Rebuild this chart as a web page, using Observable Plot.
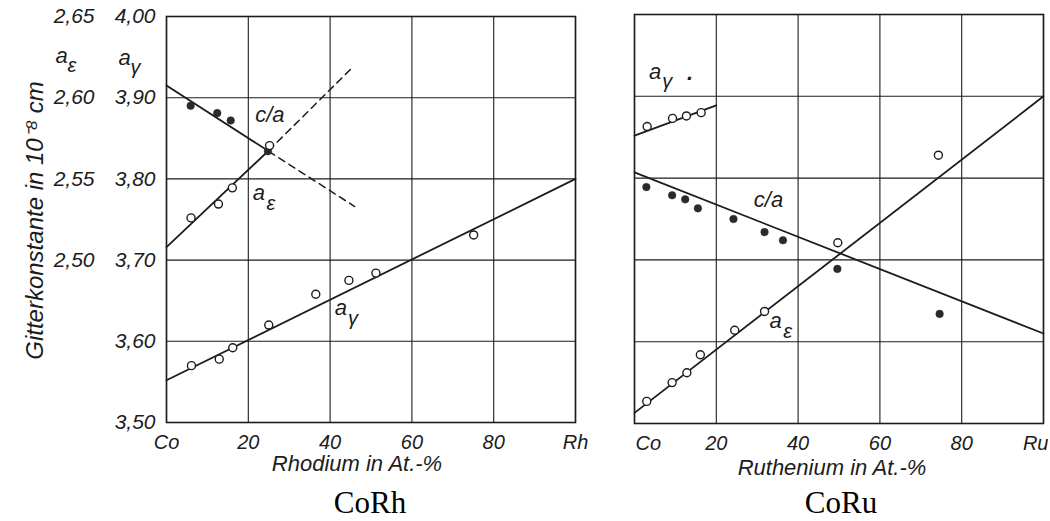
<!DOCTYPE html>
<html><head><meta charset="utf-8">
<script src="https://cdn.jsdelivr.net/npm/d3@7"></script>
<script src="https://cdn.jsdelivr.net/npm/@observablehq/plot@0.6"></script>
<style>
body{margin:0;background:#fff;}
#wrap{position:relative;width:1050px;height:521px;overflow:hidden;background:#fff;}
#wrap svg{position:absolute;top:0;background:transparent;}
.cap{position:absolute;top:485px;height:36px;font-family:"Liberation Serif","Times New Roman",serif;font-size:31px;color:#000;text-align:center;line-height:36px;}
</style></head><body><div id="wrap"></div>
<script>
// ---------- data ----------
// common axes
const xTicks = [0, 20, 40, 60, 80, 100];
const rhTickLabels = ["Co", "20", "40", "60", "80", "Rh"];
const ruTickLabels = ["Co", "20", "40", "60", "80", "Ru"];
const yTicks = [3.5, 3.6, 3.7, 3.8, 3.9, 4.0];
const agTickLabels = ["3,50", "3,60", "3,70", "3,80", "3,90", "4,00"];
const aeTickValues = [3.7, 3.8, 3.9, 4.0];
const aeTickLabels = ["2,50", "2,55", "2,60", "2,65"];

// CoRh : a_gamma (open)
const rhGammaX = [6.1, 12.9, 16.2, 25.0, 36.5, 44.6, 51.2, 75.1];
const rhGammaY = [3.570, 3.578, 3.592, 3.620, 3.658, 3.675, 3.684, 3.731];
const rhGammaLineX = [0, 100];
const rhGammaLineY = [3.552, 3.800];
// CoRh : a_epsilon (open)
const rhEpsX = [6.0, 12.7, 16.1, 25.2];
const rhEpsY = [3.752, 3.769, 3.789, 3.841];
const rhEpsLineX = [0, 25];
const rhEpsLineY = [3.716, 3.835];
const rhEpsDashX = [25, 45];
const rhEpsDashY = [3.835, 3.935];
// CoRh : c/a (filled)
const rhCaX = [5.9, 12.4, 15.7, 24.8];
const rhCaY = [3.890, 3.881, 3.872, 3.834];
const rhCaLineX = [0, 25];
const rhCaLineY = [3.915, 3.834];
const rhCaDashX = [25, 46];
const rhCaDashY = [3.834, 3.766];

// CoRu : a_gamma (open)
const ruGammaX = [3.1, 9.3, 12.7, 16.3];
const ruGammaY = [3.863, 3.873, 3.876, 3.880];
const ruGammaLineX = [0, 20];
const ruGammaLineY = [3.852, 3.889];
// CoRu : c/a (filled)
const ruCaX = [2.9, 9.2, 12.4, 15.5, 24.2, 31.8, 36.3, 49.6, 74.6];
const ruCaY = [3.789, 3.779, 3.774, 3.763, 3.750, 3.734, 3.724, 3.689, 3.634];
const ruCaLineX = [0, 100];
const ruCaLineY = [3.807, 3.610];
// CoRu : a_epsilon (open)
const ruEpsX = [3.0, 9.2, 12.8, 16.1, 24.5, 31.8, 49.7, 74.3];
const ruEpsY = [3.527, 3.550, 3.562, 3.584, 3.614, 3.637, 3.721, 3.828];
const ruEpsLineX = [0, 100];
const ruEpsLineY = [3.513, 3.900];

// ---------- helpers ----------
const INK = "#1c1c1c";
const FONT = "'Liberation Sans', Arial, sans-serif";
const pts = (xs, ys) => xs.map((x, i) => ({x, y: ys[i]}));
const solid = (xs, ys) => Plot.line(pts(xs, ys), {x: "x", y: "y", stroke: INK, strokeWidth: 1.8});
const dashed = (xs, ys) => Plot.line(pts(xs, ys), {x: "x", y: "y", stroke: INK, strokeWidth: 1.5, strokeDasharray: "7,5"});
const openDots = (xs, ys) => Plot.dot(pts(xs, ys), {x: "x", y: "y", r: 4, fill: "white", stroke: INK, strokeWidth: 1.4});
const fullDots = (xs, ys) => Plot.dot(pts(xs, ys), {x: "x", y: "y", r: 3.8, fill: "#2a2a2a", stroke: "#2a2a2a", strokeWidth: 0.5});
// "a" with a subscript letter, anchored on a data point plus an offset
function subLabel(sub, x, y, dx, dy) {
  return [
    Plot.text(["a"], {x: [x], y: [y], dx, dy, text: d => d, fontSize: 22, fill: INK}),
    Plot.text([sub], {x: [x], y: [y], dx: dx + 12, dy: dy + 10, text: d => d, fontSize: 20, fill: INK})
  ];
}
function subLabelFrame(sub, dx, dy) {
  return [
    Plot.text(["a"], {frameAnchor: "top-left", dx, dy, text: d => d, fontSize: 22, fill: INK}),
    Plot.text([sub], {frameAnchor: "top-left", dx: dx + 12, dy: dy + 10, text: d => d, fontSize: 20, fill: INK})
  ];
}
const mapLabels = (ticks, labels) => d => labels[ticks.findIndex(t => Math.abs(t - d) < 1e-9)];

const baseStyle = {fontFamily: FONT, fontStyle: "italic", fontSize: "21px", color: INK, background: "transparent", overflow: "visible"};

// ---------- CoRh ----------
const left = Plot.plot({
  width: 600, height: 480,
  marginLeft: 166, marginRight: 25, marginTop: 16, marginBottom: 58,
  style: baseStyle,
  x: {domain: [0, 100]},
  y: {domain: [3.5, 4.0]},
  marks: [
    Plot.gridX(xTicks, {stroke: INK, strokeOpacity: 1, strokeWidth: 1.1}),
    Plot.gridY(yTicks, {stroke: INK, strokeOpacity: 1, strokeWidth: 1.1}),
    Plot.frame({stroke: INK, strokeWidth: 1.6}),
    Plot.axisX(xTicks, {tickSize: 0, tickPadding: 12, tickFormat: mapLabels(xTicks, rhTickLabels), label: null, fontSize: 20, letterSpacing: "1.3px"}),
    Plot.axisY(yTicks, {tickSize: 0, tickPadding: 11, tickFormat: mapLabels(yTicks, agTickLabels), label: null, fontSize: 21}),
    Plot.axisY(aeTickValues, {tickSize: 0, tickPadding: 72, tickFormat: mapLabels(aeTickValues, aeTickLabels), label: null, fontSize: 21}),
    ...subLabelFrame("ε", -111, 31),
    ...subLabelFrame("γ", -48, 33),
    Plot.text(["Gitterkonstante in 10⁻⁸ cm"], {frameAnchor: "left", textAnchor: "middle", dx: -131, dy: 1, rotate: -90, text: d => d, fontSize: 24, letterSpacing: "2.6px", fill: INK}),
    Plot.text(["Rhodium in At.-%"], {frameAnchor: "bottom", dx: -14, dy: 48, text: d => d, fontSize: 22, letterSpacing: "3.2px", fill: INK}),
    solid(rhGammaLineX, rhGammaLineY),
    solid(rhEpsLineX, rhEpsLineY),
    dashed(rhEpsDashX, rhEpsDashY),
    solid(rhCaLineX, rhCaLineY),
    dashed(rhCaDashX, rhCaDashY),
    openDots(rhGammaX, rhGammaY),
    fullDots(rhCaX, rhCaY),
    openDots(rhEpsX, rhEpsY),
    Plot.text(["c/a"], {x: [rhCaX[3]], y: [rhCaY[3]], dx: 2, dy: -36, text: d => d, fontSize: 22, fill: INK}),
    ...subLabel("ε", rhCaX[3], rhCaY[3], -9, 42),
    ...subLabel("γ", rhGammaX[5], rhGammaY[5], -8, 28)
  ]
});
left.style.left = "0px";

// ---------- CoRu ----------
const right = Plot.plot({
  width: 450, height: 480,
  marginLeft: 34, marginRight: 7, marginTop: 14, marginBottom: 57,
  style: baseStyle,
  x: {domain: [0, 100]},
  y: {domain: [3.5, 4.0], axis: null},
  marks: [
    Plot.gridX(xTicks, {stroke: INK, strokeOpacity: 1, strokeWidth: 1.1}),
    Plot.gridY(yTicks, {stroke: INK, strokeOpacity: 1, strokeWidth: 1.1}),
    Plot.frame({stroke: INK, strokeWidth: 1.6}),
    Plot.axisX(xTicks.slice(1, 5), {tickSize: 0, tickPadding: 12, tickFormat: mapLabels(xTicks, ruTickLabels), label: null, fontSize: 20, letterSpacing: "1.3px"}),
    Plot.text([ruTickLabels[0]], {x: [xTicks[0]], frameAnchor: "bottom", textAnchor: "start", lineAnchor: "top", dx: 1, dy: 12, text: d => d, fontSize: 20, letterSpacing: "1.3px", fill: INK}),
    Plot.text([ruTickLabels[5]], {x: [xTicks[5]], frameAnchor: "bottom", textAnchor: "end", lineAnchor: "top", dx: 5, dy: 12, text: d => d, fontSize: 20, letterSpacing: "1.3px", fill: INK}),
    Plot.text(["Ruthenium in At.-%"], {frameAnchor: "bottom", dx: -7, dy: 51, text: d => d, fontSize: 22, letterSpacing: "3.2px", fill: INK}),
    solid(ruGammaLineX, ruGammaLineY),
    solid(ruCaLineX, ruCaLineY),
    solid(ruEpsLineX, ruEpsLineY),
    openDots(ruGammaX, ruGammaY),
    fullDots(ruCaX, ruCaY),
    openDots(ruEpsX, ruEpsY),
    ...subLabel("γ", ruGammaX[0], ruGammaY[0], 8, -55),
    Plot.text(["."], {x: [ruGammaX[0]], y: [ruGammaY[0]], dx: 43, dy: -54, text: d => d, fontSize: 22, fontWeight: "bold", fill: INK}),
    Plot.text(["c/a"], {x: [ruCaX[4]], y: [ruCaY[4]], dx: 35, dy: -19, text: d => d, fontSize: 22, fill: INK}),
    ...subLabel("ε", ruEpsX[5], ruEpsY[5], 11, 10)
  ]
});
right.style.left = "600px";

const wrap = document.getElementById("wrap");
wrap.appendChild(left);
wrap.appendChild(right);
for (const [txt, cx] of [["CoRh", 370], ["CoRu", 841]]) {
  const d = document.createElement("div");
  d.className = "cap";
  d.textContent = txt;
  d.style.left = (cx - 100) + "px";
  d.style.width = "200px";
  wrap.appendChild(d);
}
</script>
</body></html>
